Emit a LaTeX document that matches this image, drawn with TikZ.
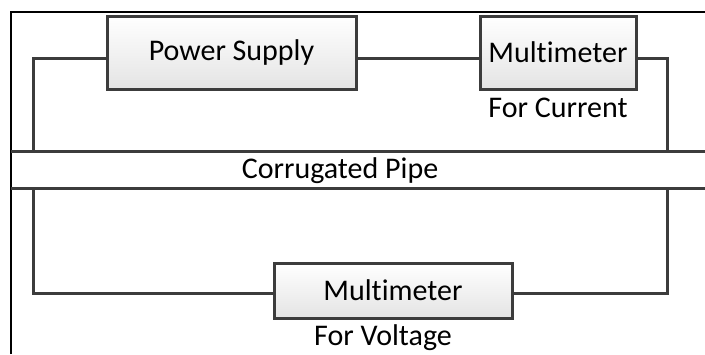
\documentclass[tikz,border=0pt]{standalone}
\usepackage{fontspec}
\setmainfont{Carlito}[Ligatures=NoCommon]
\usepackage{tikz}
\usetikzlibrary{shadows}
\definecolor{wiregray}{HTML}{3C3C3C}
\definecolor{boxbottom}{HTML}{E4E4E4}

\begin{document}
\begin{tikzpicture}[x=1pt,y=-1pt,
    devbox/.style={draw=wiregray,line width=3pt,top color=white,bottom color=boxbottom,
      inner sep=0pt,font=\fontsize{30}{36}\selectfont,
      drop shadow={shadow xshift=2pt,shadow yshift=-2pt,opacity=0.25}},
    wire/.style={wiregray,line width=3pt},
    note/.style={font=\fontsize{30}{36}\selectfont,inner sep=0pt}]
    \useasboundingbox (0,0) rectangle (705,354);
    \fill[white] (0,0) rectangle (705,354);
    % frame and pipe
    \draw[black,line width=1.5pt] (11,354) -- (11,12) -- (705,12);
    \coordinate (pipeTL) at (11,151);
    \coordinate (pipeTR) at (705,151);
    \coordinate (pipeBL) at (11,188);
    \coordinate (pipeBR) at (705,188);
    \draw[wire] (pipeTL) -- (pipeTR);
    \draw[wire] (pipeBL) -- (pipeBR);
    \node[note] (pipe) at (340,171) {Corrugated Pipe};
    \coordinate (tapL) at (33,151);
    \coordinate (tapR) at (667,151);
    \coordinate (tapLb) at (33,188);
    \coordinate (tapRb) at (667,188);
    % devices
    \node[devbox,minimum width=249pt,minimum height=73pt] (ps) at (231.5,52.5) {Power Supply};
    \node[devbox,minimum width=156pt,minimum height=73pt] (mmc) at (558,52.5) {Multimeter};
    \node[note] (curr) at (558,108) {For Current};
    \node[devbox,minimum width=238pt,minimum height=55pt] (mmv) at (393,290.5) {Multimeter};
    \node[note] (volt) at (383,338) {For Voltage};
    % wiring
    \draw[wire] ([yshift=-5.5pt]ps.west) -| (tapL);
    \draw[wire] ([yshift=-5.5pt]ps.east) -- ([yshift=-5.5pt]mmc.west);
    \draw[wire] ([yshift=-5.5pt]mmc.east) -| (tapR);
    \draw[wire] ([yshift=-2.5pt]mmv.west) -| (tapLb);
    \draw[wire] ([yshift=-2.5pt]mmv.east) -| (tapRb);
\end{tikzpicture}
\end{document}
